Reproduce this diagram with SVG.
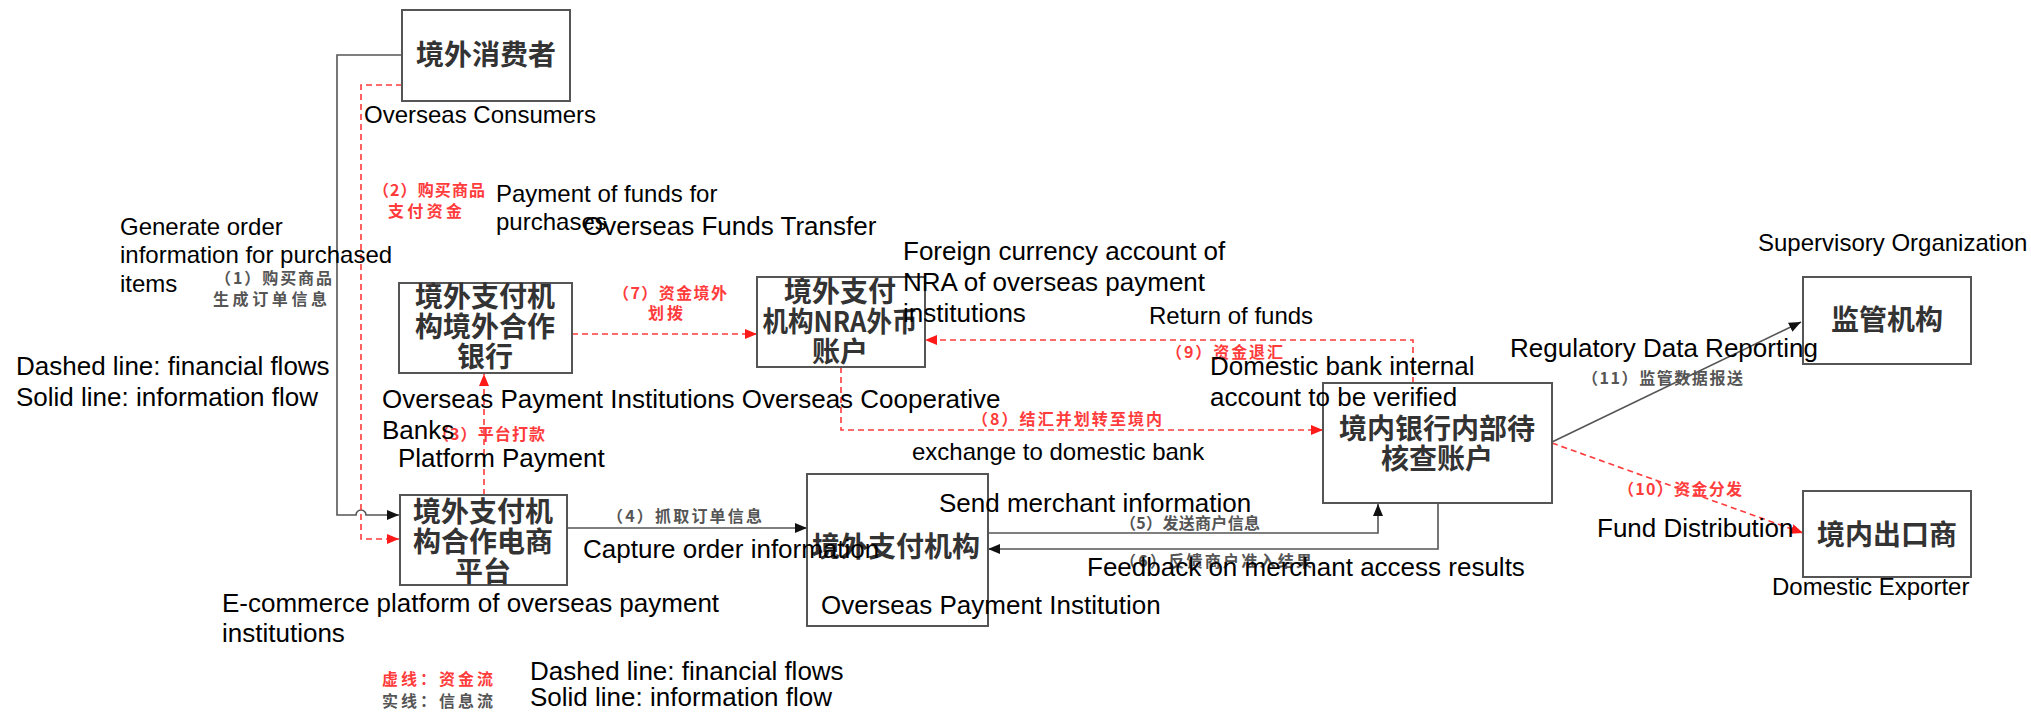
<svg xmlns="http://www.w3.org/2000/svg" width="2031" height="713" viewBox="0 0 2031 713">
  <style>
    .box { fill: #fff; stroke: #555; stroke-width: 2; }
    .node { font-family: "Noto Sans CJK SC", "Liberation Sans", sans-serif; font-size: 28px; font-weight: 700; fill: #333; text-anchor: middle; dominant-baseline: central; }
    .en { font-family: "Liberation Sans", Arial, sans-serif; font-size: 26px; fill: #000; }
    .en24 { font-family: "Liberation Sans", Arial, sans-serif; font-size: 24px; fill: #000; }
    .step { font-family: "Noto Sans CJK SC", "Liberation Sans", sans-serif; font-size: 16px; font-weight: 700; dominant-baseline: central; }
    .gray { fill: #555; }
    .red { fill: #ff3b3b; }
    .info { fill: none; stroke: #555; stroke-width: 1.6; }
    .fund { fill: none; stroke: #ff3b3b; stroke-width: 1.6; stroke-dasharray: 6 4; }
  </style>
  <defs>
    <marker id="arrowInfo" viewBox="0 0 12 10" refX="12" refY="5" markerWidth="12" markerHeight="10" markerUnits="userSpaceOnUse" orient="auto">
      <path d="M0,0 L12,5 L0,10 z" fill="#111"/>
    </marker>
    <marker id="arrowFund" viewBox="0 0 12 10" refX="12" refY="5" markerWidth="12" markerHeight="10" markerUnits="userSpaceOnUse" orient="auto">
      <path d="M0,0 L12,5 L0,10 z" fill="#ff1a1a"/>
    </marker>
  </defs>

  <!-- connectors -->
  <g id="connectors">
    <!-- (1) order information: consumer to e-commerce platform, hopping over the funds line -->
    <path class="info" d="M402,55 H337 V515 H356 A5,5 0 0 1 366,515 H399" marker-end="url(#arrowInfo)"/>
    <!-- (2) payment for purchases -->
    <path class="fund" d="M402,85 H361 V539 H399" marker-end="url(#arrowFund)"/>
    <!-- (3) platform payment -->
    <path class="fund" d="M484,495 V374" marker-end="url(#arrowFund)"/>
    <!-- (7) overseas funds transfer -->
    <path class="fund" d="M572,334 H757" marker-end="url(#arrowFund)"/>
    <!-- (8) exchange and transfer to domestic bank -->
    <path class="fund" d="M841,367 V430 H1323" marker-end="url(#arrowFund)"/>
    <!-- (9) return of funds -->
    <path class="fund" d="M1413,383 V340 H925" marker-end="url(#arrowFund)"/>
    <!-- (4) capture order information -->
    <path class="info" d="M567,528 H807" marker-end="url(#arrowInfo)"/>
    <!-- (5) send merchant information -->
    <path class="info" d="M988,533 H1378 V504" marker-end="url(#arrowInfo)"/>
    <!-- (6) feedback on merchant access -->
    <path class="info" d="M1438,504 V549 H988" marker-end="url(#arrowInfo)"/>
    <!-- (11) regulatory data reporting -->
    <path class="info" d="M1552,442 L1801,322" marker-end="url(#arrowInfo)"/>
    <!-- (10) fund distribution -->
    <path class="fund" d="M1552,443 L1803,533" marker-end="url(#arrowFund)"/>
  </g>

  <!-- nodes -->
  <g id="overseas-consumer">
    <rect class="box" x="402" y="10" width="168" height="91"/>
    <text class="node" x="486" y="53">境外消费者</text>
  </g>
  <g id="overseas-bank">
    <rect class="box" x="399" y="283" width="173" height="90"/>
    <text class="node" x="485" y="295">境外支付机</text>
    <text class="node" x="485" y="325">构境外合作</text>
    <text class="node" x="485" y="355">银行</text>
  </g>
  <g id="ecommerce-platform">
    <rect class="box" x="400" y="495" width="167" height="90"/>
    <text class="node" x="483" y="510">境外支付机</text>
    <text class="node" x="483" y="540">构合作电商</text>
    <text class="node" x="483" y="570">平台</text>
  </g>
  <g id="nra-account">
    <rect class="box" x="757" y="277" width="168" height="90"/>
    <text class="node" x="840" y="290">境外支付</text>
    <text class="node" x="840" y="320" textLength="155" lengthAdjust="spacingAndGlyphs">机构NRA外币</text>
    <text class="node" x="840" y="350">账户</text>
  </g>
  <g id="payment-institution">
    <rect class="box" x="807" y="474" width="181" height="152"/>
    <text class="node" x="896" y="545">境外支付机构</text>
  </g>
  <g id="domestic-account">
    <rect class="box" x="1323" y="383" width="229" height="120"/>
    <text class="node" x="1437" y="427">境内银行内部待</text>
    <text class="node" x="1437" y="457">核查账户</text>
  </g>
  <g id="regulator">
    <rect class="box" x="1803" y="277" width="168" height="87"/>
    <text class="node" x="1887" y="318">监管机构</text>
  </g>
  <g id="domestic-exporter">
    <rect class="box" x="1803" y="491" width="168" height="86"/>
    <text class="node" x="1887" y="533">境内出口商</text>
  </g>

  <!-- step labels -->
  <g id="step-labels">
    <text class="step gray" x="215" y="277" textLength="117">（1）购买商品</text>
    <text class="step gray" x="213" y="298" textLength="114">生成订单信息</text>
    <text class="step red" x="373" y="189" textLength="112">（2）购买商品</text>
    <text class="step red" x="388" y="210" textLength="74">支付资金</text>
    <text class="step red" x="433" y="433" textLength="112">（3）平台打款</text>
    <text class="step red" x="613" y="292" textLength="114">（7）资金境外</text>
    <text class="step red" x="648" y="312" textLength="35">划拨</text>
    <text class="step gray" x="607" y="515" textLength="155">（4）抓取订单信息</text>
    <text class="step gray" x="1120" y="522" textLength="140">（5）发送商户信息</text>
    <text class="step gray" x="1120" y="560" textLength="192">（6）反馈商户准入结果</text>
    <text class="step red" x="972" y="418" textLength="190">（8）结汇并划转至境内</text>
    <text class="step red" x="1166" y="351" textLength="117">（9）资金退汇</text>
    <text class="step red" x="1618" y="488" textLength="124">（10）资金分发</text>
    <text class="step gray" x="1582" y="377" textLength="161">（11）监管数据报送</text>
    <text class="step red" x="382" y="678" textLength="111">虚线：资金流</text>
    <text class="step gray" x="382" y="700" textLength="111">实线：信息流</text>
  </g>

  <!-- English annotations -->
  <g id="annotations">
    <text class="en24" x="364" y="123">Overseas  Consumers</text>
    <text class="en24" x="496" y="202">Payment of funds for</text>
    <text class="en24" x="496" y="230">purchases</text>
    <text class="en" x="583" y="235">Overseas Funds Transfer</text>
    <text class="en24" x="120" y="235">Generate order</text>
    <text class="en24" x="120" y="263">information for purchased</text>
    <text class="en24" x="120" y="292">items</text>
    <text class="en" x="903" y="260">Foreign currency account of</text>
    <text class="en" x="903" y="291">NRA of overseas  payment</text>
    <text class="en" x="903" y="322">institutions</text>
    <text class="en24" x="1149" y="324">Return of funds</text>
    <text class="en" x="1210" y="375">Domestic bank internal</text>
    <text class="en" x="1210" y="406">account to be verified</text>
    <text class="en" x="1510" y="357">Regulatory Data Reporting</text>
    <text class="en24" x="1758" y="251">Supervisory Organization</text>
    <text class="en" x="16" y="375">Dashed line: financial flows</text>
    <text class="en" x="16" y="406">Solid line: information flow</text>
    <text class="en" x="382" y="408">Overseas Payment Institutions Overseas Cooperative</text>
    <text class="en" x="382" y="439">Banks</text>
    <text class="en" x="398" y="467">Platform Payment</text>
    <text class="en24" x="912" y="460">exchange to domestic bank</text>
    <text class="en" x="939" y="512">Send merchant information</text>
    <text class="en" x="583" y="558">Capture order information</text>
    <text class="en" x="1087" y="576">Feedback on merchant access results</text>
    <text class="en" x="821" y="614">Overseas Payment Institution</text>
    <text class="en" x="1597" y="537">Fund Distribution</text>
    <text class="en24" x="1772" y="595">Domestic Exporter</text>
    <text class="en" x="222" y="612">E-commerce platform of overseas  payment</text>
    <text class="en" x="222" y="642">institutions</text>
    <text class="en" x="530" y="680">Dashed line: financial flows</text>
    <text class="en" x="530" y="706">Solid line: information flow</text>
  </g>
</svg>
